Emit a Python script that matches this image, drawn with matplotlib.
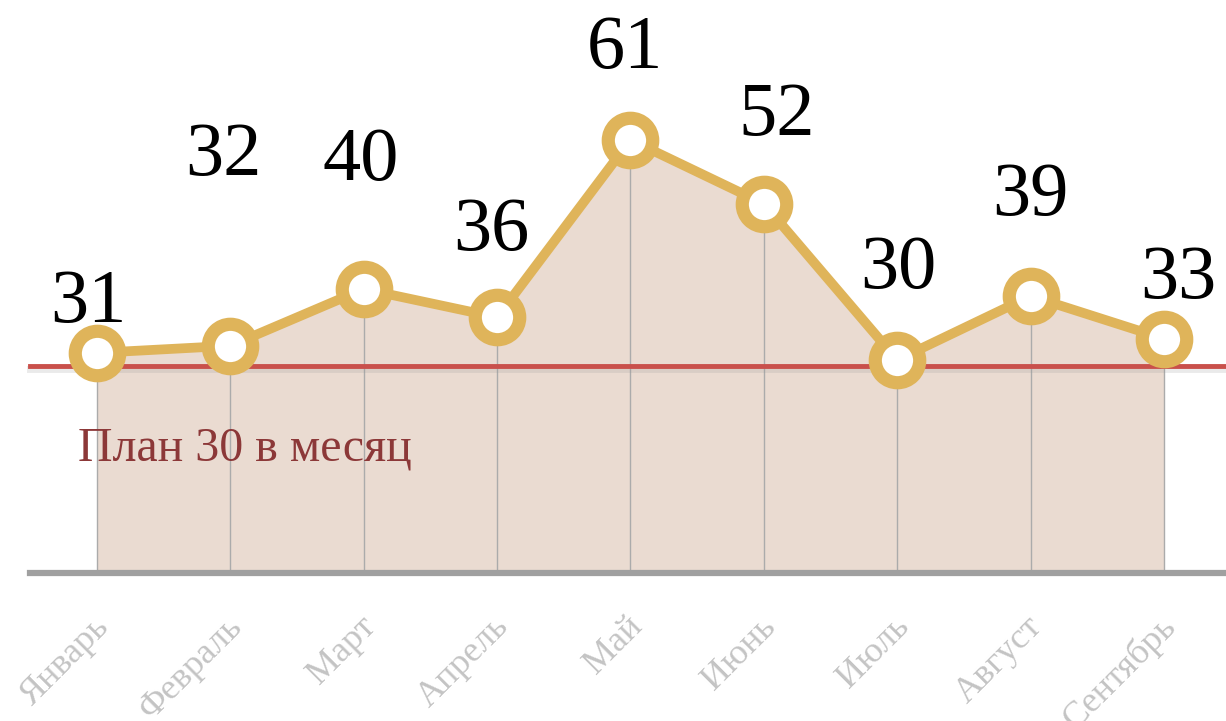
"""
plot.py
=======
Monthly results vs plan (line with area fill, value labels, plan line).
"""

import matplotlib
matplotlib.use("Agg")
import matplotlib.pyplot as plt
from matplotlib.transforms import blended_transform_factory

# ---------------------------------------------------------------------------
# Data
# ---------------------------------------------------------------------------
months = ["Январь", "Февраль", "Март", "Апрель", "Май",
          "Июнь", "Июль", "Август", "Сентябрь"]
values = [31, 32, 40, 36, 61, 52, 30, 39, 33]
plan_level = 29.2          # plan line as drawn in the picture
plan_text = "План 30 в месяц"

# label offsets from each point (pixels): (dx, dy to baseline)
label_offsets = [(-9, 31), (-7, 171), (-3, 109), (-6, 67), (-6, 72),
                 (13, 69), (1, 72), (0, 81), (14, 41)]

# ---------------------------------------------------------------------------
# Styles
# ---------------------------------------------------------------------------
GOLD = "#dfb45a"
FILL = "#eadbd1"
RED = "#c9504b"
PLAN_TXT = "#8c3838"
SERIF = ["Liberation Serif", "DejaVu Serif"]

fig = plt.figure(figsize=(12.26, 7.21), dpi=100)
ax = fig.add_axes([0, 0, 1, 1])
ax.set_xlim(-0.727, 8.465)
ax.set_ylim(-20.85, 80.7)
ax.axis("off")

x = list(range(len(values)))

# area under the line + drop lines
ax.fill_between(x, values, 0, color=FILL, lw=0, zorder=1)
ax.vlines(x, 0, values, color="#ababab", lw=1, zorder=2)

# baseline
ax.axhline(0, xmin=30 / 1226, xmax=1, color="#a0a0a0", lw=4.5, zorder=3)

# plan line with a soft shadow
ax.axhline(plan_level - 0.5, xmin=30 / 1226, xmax=1, color="#999999",
           lw=5, alpha=0.2, zorder=3)
ax.axhline(plan_level, xmin=30 / 1226, xmax=1, color=RED, lw=3.5, zorder=4)

# main line with hollow markers
ax.plot(x, values, color=GOLD, lw=7, zorder=5,
        marker="o", markersize=32, markerfacecolor="white",
        markeredgecolor=GOLD, markeredgewidth=9.5)

# value labels
for xi, v, (dx, dy) in zip(x, values, label_offsets):
    ax.annotate(str(v), (xi, v), xytext=(dx, dy), textcoords="offset pixels",
                ha="center", va="baseline", fontsize=55, family=SERIF,
                color="black", zorder=6)

# plan caption
ax.text(-0.14, 15.8, plan_text, fontsize=34.5, family=SERIF, color=PLAN_TXT,
        ha="left", va="baseline", zorder=6)

# month labels, rotated
trans = blended_transform_factory(ax.transData, fig.transFigure)
for xi, m in zip(x, months):
    ax.text(xi - 0.035, 1 - 610 / 721, m, transform=trans, rotation=45,
            rotation_mode="anchor", ha="right", va="top",
            fontsize=26, family=SERIF, color="#c4c4c4")

plt.savefig("out.png", dpi=100)
